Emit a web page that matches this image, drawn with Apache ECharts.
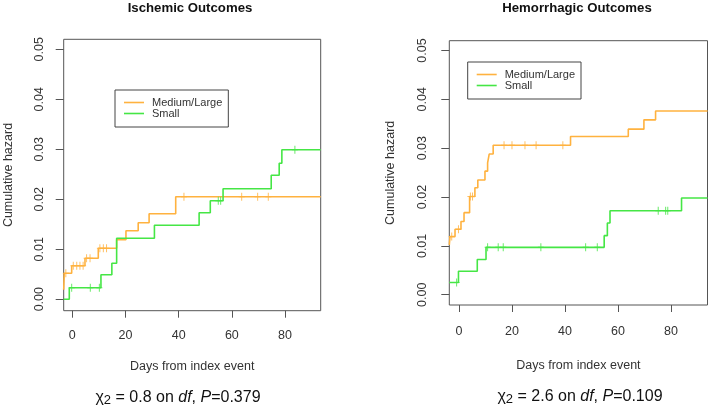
<!DOCTYPE html>
<html><head><meta charset="utf-8">
<script src="https://cdn.jsdelivr.net/npm/echarts@6/dist/echarts.min.js"></script>
<style>html,body{margin:0;padding:0;background:#fff}#c{width:709px;height:410px}</style>
</head><body><div id="c"></div><script>
// ---- data ----
const xTicks = [0, 20, 40, 60, 80];
const yTicks = [0, 0.01, 0.02, 0.03, 0.04, 0.05];
const seriesNames = ['Medium/Large', 'Small'];
const panelTitles = ['Ischemic Outcomes', 'Hemorrhagic Outcomes'];
const xAxisName = 'Days from index event';
const yAxisName = 'Cumulative hazard';
const chiValues = ['0.8', '2.6'];
const pValues = ['0.379', '0.109'];

// Ischemic, Medium/Large
const ischMLTime = [-3.2, -3.0, -0.2, 4.8, 9.8, 16.7, 20.2, 24.8, 28.9, 38.9, 93.4];
const ischMLHaz  = [0.0019, 0.0052, 0.0067, 0.0082, 0.0102, 0.0119, 0.0137, 0.0153, 0.0171, 0.0205, 0.0205];
const ischMLCens = [-2.4, 0.4, 1.7, 2.9, 4.1, 5.4, 6.7, 10.4, 11.7, 12.9, 42.0, 63.7, 69.7, 73.7];
// Ischemic, Small
const ischSTime = [-3.2, -1.1, 10.8, 14.9, 16.7, 30.9, 47.7, 51.9, 56.7, 74.8, 77.8, 78.8, 93.4];
const ischSHaz  = [0, 0.0023, 0.0049, 0.0072, 0.0122, 0.0148, 0.0173, 0.0197, 0.0221, 0.0248, 0.0272, 0.0299, 0.0299];
const ischSCens = [-0.2, 6.8, 10.2, 54.9, 55.8, 83.7];
// Hemorrhagic, Medium/Large
const hemMLTime = [-3.66, -3.4, -1.5, 0.75, 1.9, 4.0, 6.0, 7.1, 9.8, 10.8, 11.4, 12.9, 42.1, 63.9, 69.8, 74.2, 93.8];
const hemMLHaz  = [0.0102, 0.0119, 0.0134, 0.0150, 0.0168, 0.0201, 0.0219, 0.0235, 0.0253, 0.0270, 0.0288, 0.0306, 0.0324, 0.0339, 0.0358, 0.0376, 0.0376];
const hemMLCens = [-2.75, -0.2, 4.3, 5.1, 17.0, 20.0, 24.9, 29.1, 39.2];
// Hemorrhagic, Small
const hemSTime = [-3.66, -0.2, 6.9, 10.2, 54.8, 56.0, 57.0, 84.0, 93.8];
const hemSHaz  = [0.0025, 0.0048, 0.0072, 0.0097, 0.0121, 0.0147, 0.0172, 0.0198, 0.0198];
const hemSCens = [-0.9, 10.8, 14.8, 16.7, 30.9, 47.8, 52.2, 75.2, 78.0, 78.8];

// ---- helpers ----
const ORANGE = '#FFB23F', GREEN = '#45E645';
const FONT = 'Liberation Sans, Arial, sans-serif';
function pairs(t, h) { return t.map((v, i) => [v, h[i]]); }
function hazAt(t, h, x) { let v = h[0]; for (let i = 0; i < t.length; i++) { if (t[i] <= x) v = h[i]; } return v; }
function censPts(t, h, c) { return c.map(x => [x, hazAt(t, h, x)]); }
const plusPath = 'path://M2.5,0h1v3.5h2.5v1h-2.5v3.5h-1v-3.5h-2.5v-1h2.5z';

function lineSeries(name, gi, t, h, color) {
  return { type: 'line', name, xAxisIndex: gi, yAxisIndex: gi, step: 'end', symbol: 'none', showSymbol: false,
    data: pairs(t, h), lineStyle: { color, width: 1.6 }, itemStyle: { color }, silent: true, z: 3 };
}
function censSeries(name, gi, t, h, c, color) {
  return { type: 'scatter', name, xAxisIndex: gi, yAxisIndex: gi, symbol: plusPath, symbolSize: [6, 8],
    data: censPts(t, h, c), itemStyle: { color }, silent: true, z: 4 };
}
function xAxisCfg(gi, min, max, margin, nameGap) {
  return { type: 'value', gridIndex: gi, min, max,
    axisLine: { show: false, onZero: false }, splitLine: { show: false },
    axisTick: { show: true, inside: false, customValues: xTicks, length: 7, lineStyle: { color: '#555' } },
    axisLabel: { customValues: xTicks, margin, fontSize: 12.5, color: '#333', fontFamily: FONT },
    name: xAxisName, nameLocation: 'middle', nameGap,
    nameTextStyle: { fontSize: 12.5, color: '#333', fontFamily: FONT } };
}
function yAxisCfg(gi, min, max, margin, nameGap) {
  return { type: 'value', gridIndex: gi, min, max,
    axisLine: { show: false, onZero: false }, splitLine: { show: false },
    axisTick: { show: true, inside: false, customValues: yTicks, length: 8, lineStyle: { color: '#555' } },
    axisLabel: { customValues: yTicks, rotate: 90, margin, fontSize: 12.5, color: '#333', fontFamily: FONT,
      formatter: v => v.toFixed(2) },
    name: yAxisName, nameLocation: 'middle', nameGap,
    nameTextStyle: { fontSize: 12.5, color: '#333', fontFamily: FONT } };
}
function legendCfg(left, top) {
  return { data: seriesNames.map(n => ({ name: n, icon: 'path://M0,0h20v1.6h-20z' })),
    orient: 'vertical', left, top, padding: [7, 6, 8, 9], symbolKeepAspect: true,
    itemWidth: 20, itemHeight: 12.4, itemGap: 0, borderColor: '#444', borderWidth: 1,
    selectedMode: false, textStyle: { fontSize: 11, color: '#333', fontFamily: FONT, padding: [0, 0, 0, 3] } };
}
function chiText(cx, cy, chi, p) {
  return { type: 'text', x: cx, y: cy, silent: true,
    style: { text: '{g|χ}{s|2} = ' + chi + ' on {i|df}, {i|P}=' + p, align: 'center', verticalAlign: 'middle',
      fontSize: 16, fontFamily: FONT, fill: '#111',
      rich: { g: { fontSize: 16, fontFamily: FONT, fill: '#111' },
              s: { fontSize: 13, fontFamily: FONT, fill: '#111', padding: [4, 0, 0, 0] },
              i: { fontSize: 16, fontStyle: 'italic', fontFamily: FONT, fill: '#111' } } } };
}
function titleText(cx, cy, txt) {
  return { type: 'text', x: cx, y: cy, silent: true,
    style: { text: txt, align: 'center', verticalAlign: 'middle', fontSize: 13.2, fontWeight: 'bold', fontFamily: FONT, fill: '#111' } };
}

const chart = echarts.init(document.getElementById('c'), null, { renderer: 'canvas' });
chart.setOption({
  animation: false,
  backgroundColor: '#fff',
  grid: [
    { left: 63.7, top: 39.3, width: 257, height: 271.4, show: true, borderColor: '#555', borderWidth: 1, containLabel: false },
    { left: 449.3, top: 40.7, width: 258.2, height: 264.3, show: true, borderColor: '#555', borderWidth: 1, containLabel: false }
  ],
  xAxis: [ xAxisCfg(0, -3.2, 93.4, 18, 49), xAxisCfg(1, -3.66, 93.8, 20, 54) ],
  yAxis: [ yAxisCfg(0, -0.0023, 0.052, 18, 49), yAxisCfg(1, -0.0021, 0.052, 20, 52) ],
  legend: [ legendCfg(115, 90), legendCfg(467.7, 62) ],
  series: [
    lineSeries(seriesNames[0], 0, ischMLTime, ischMLHaz, ORANGE),
    lineSeries(seriesNames[1], 0, ischSTime, ischSHaz, GREEN),
    censSeries('censML0', 0, ischMLTime, ischMLHaz, ischMLCens, ORANGE),
    censSeries('censS0', 0, ischSTime, ischSHaz, ischSCens, GREEN),
    lineSeries(seriesNames[0], 1, hemMLTime, hemMLHaz, ORANGE),
    lineSeries(seriesNames[1], 1, hemSTime, hemSHaz, GREEN),
    censSeries('censML1', 1, hemMLTime, hemMLHaz, hemMLCens, ORANGE),
    censSeries('censS1', 1, hemSTime, hemSHaz, hemSCens, GREEN)
  ],
  graphic: [
    titleText(190, 8.5, panelTitles[0]),
    titleText(577, 8.5, panelTitles[1]),
    chiText(178, 398, chiValues[0], pValues[0]),
    chiText(580, 397, chiValues[1], pValues[1])
  ]
});
</script></body></html>
